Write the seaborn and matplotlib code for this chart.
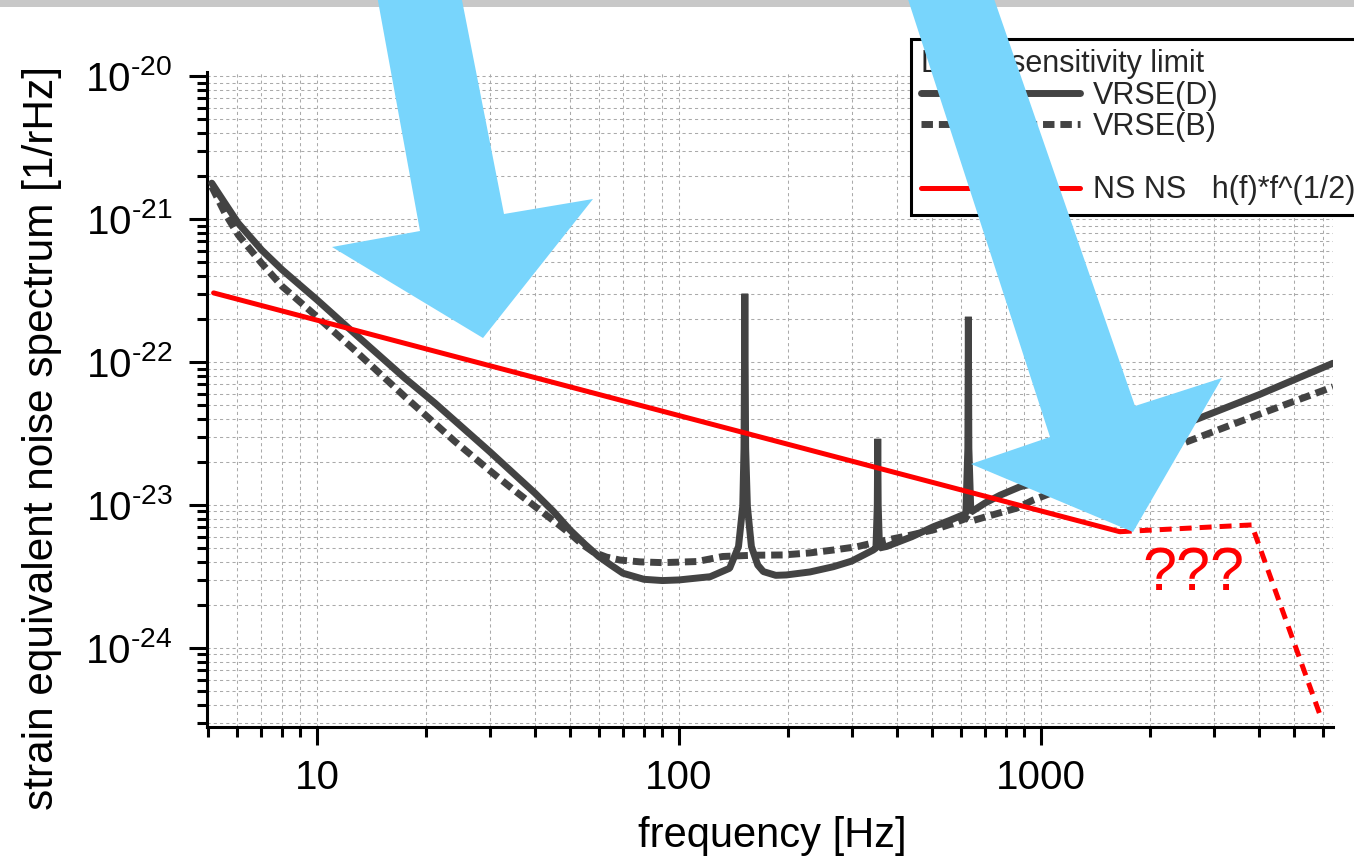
import matplotlib
matplotlib.use("Agg")
import matplotlib.pyplot as plt
import seaborn as sns
import pandas as pd
from matplotlib.lines import Line2D
from matplotlib.patches import Polygon, Rectangle
from matplotlib.ticker import NullFormatter, FixedLocator, FixedFormatter

# ---------------- data ----------------
freq_D = [5.12, 5.6, 6.06, 7.03, 8.02, 10.0, 12.7, 17.5, 21.2, 30.0, 40.0, 45.0, 50.0,
          55.0, 60.0, 65.0, 70.0, 80.0, 90.0, 100, 122, 138, 146, 150, 151.2, 151.7,
          152, 152.3, 152.8, 154.5, 158.5, 165, 171, 185, 198, 230, 267, 300, 344,
          350, 353, 354, 355, 358, 375, 440, 505, 560, 620, 628, 630, 632, 640, 700,
          771, 875, 950, 1200, 1600, 2000, 2750, 4000, 6410]
h_D = [1.78e-21, 1.26e-21, 9.33e-22, 6.07e-22, 4.40e-22, 2.72e-22, 1.58e-22, 7.69e-23,
       5.14e-23, 2.36e-23, 1.21e-23, 9.0e-24, 6.68e-24, 5.3e-24, 4.36e-24, 3.78e-24,
       3.33e-24, 3.02e-24, 2.96e-24, 2.99e-24, 3.15e-24, 3.61e-24, 5.12e-24, 9.77e-24,
       2.5e-23, 1.0e-22, 3.0e-22, 1.0e-22, 2.5e-23, 9.77e-24, 5.12e-24, 3.8e-24,
       3.42e-24, 3.22e-24, 3.24e-24, 3.4e-24, 3.7e-24, 4.05e-24, 4.84e-24, 5.0e-24,
       1.0e-23, 2.9e-23, 1.0e-23, 5.0e-24, 5.13e-24, 6.0e-24, 7.05e-24, 7.8e-24,
       8.7e-24, 2.5e-23, 2.07e-22, 2.5e-23, 8.9e-24, 1.03e-23, 1.17e-23, 1.34e-23,
       1.41e-23, 1.78e-23, 2.37e-23, 2.97e-23, 4.06e-23, 5.9e-23, 9.8e-23]

freq_B = [5.12, 5.57, 6.06, 7.03, 8.02, 10.0, 12.7, 17.5, 24.0, 30.0, 35.0, 40.0, 45.0,
          50.0, 54.0, 58.0, 63.0, 68.6, 78.0, 90.0, 112, 132, 160, 194, 230, 267, 310,
          352, 430, 505, 560, 623, 640, 720, 857, 950, 1500, 2468, 4000, 6410]
h_B = [1.68e-21, 1.096e-21, 7.73e-22, 4.90e-22, 3.37e-22, 2.07e-22, 1.21e-22, 5.71e-23,
       2.79e-23, 1.74e-23, 1.27e-23, 9.77e-24, 7.76e-24, 6.31e-24, 5.31e-24, 4.68e-24,
       4.32e-24, 4.12e-24, 4.0e-24, 3.95e-24, 4.02e-24, 4.36e-24, 4.45e-24, 4.47e-24,
       4.62e-24, 4.84e-24, 5.1e-24, 5.5e-24, 6.1e-24, 6.7e-24, 7.3e-24, 8.07e-24,
       7.7e-24, 8.4e-24, 9.5e-24, 1.08e-23, 1.7e-23, 2.7e-23, 4.3e-23, 6.7e-23]

freq_ns = [5.18, 1650]
h_ns = [3.04e-22, 6.5e-24]
freq_ns_ext = [1650, 3820, 5900]
h_ns_ext = [6.5e-24, 7.25e-24, 3.4e-25]

x_ticks = [10, 100, 1000]
x_tick_labels = ["10", "100", "1000"]
y_ticks = [1e-24, 1e-23, 1e-22, 1e-21, 1e-20]
y_tick_labels = [r"$10^{\text{-}24}$", r"$10^{\text{-}23}$", r"$10^{\text{-}22}$",
                 r"$10^{\text{-}21}$", r"$10^{\text{-}20}$"]

legend_title = "LCGT sensitivity limit"
label_D = "VRSE(D)"
label_B = "VRSE(B)"
label_ns = "NS NS   h(f)*f^(1/2)"
xlabel = "frequency [Hz]"
ylabel = "strain equivalent noise spectrum [1/rHz]"
note = "???"

# ---------------- styling ----------------
sns.set_theme(style="white")
plt.rcParams["font.family"] = ["Liberation Sans", "DejaVu Sans"]
plt.rcParams["mathtext.fontset"] = "custom"
plt.rcParams["mathtext.rm"] = "Liberation Sans"
plt.rcParams["mathtext.it"] = "Liberation Sans:italic"
plt.rcParams["mathtext.bf"] = "Liberation Sans:bold"

W, H = 1354, 865
fig = plt.figure(figsize=(W / 100, H / 100), dpi=100)
fig.patch.set_facecolor("white")
ax = fig.add_axes([207 / W, 1 - 727 / H, (1333 - 207) / W, (727 - 72) / H])
ax.set_xscale("log")
ax.set_yscale("log")

gray = "#434343"
red = "#ff0000"
lw_gray = 5.0
lw_red = 3.6
dash_gray = (0, (1.65, 0.85))
dash_red = (0, (2.4, 1.6))

dfD = pd.DataFrame({"f": freq_D, "h": h_D})
dfB = pd.DataFrame({"f": freq_B, "h": h_B})
dfN = pd.DataFrame({"f": freq_ns, "h": h_ns})
dfN2 = pd.DataFrame({"f": freq_ns_ext, "h": h_ns_ext})

sns.lineplot(data=dfB, x="f", y="h", ax=ax, color=gray, linewidth=lw_gray,
             linestyle=dash_gray, estimator=None, sort=False, zorder=3)
sns.lineplot(data=dfD, x="f", y="h", ax=ax, color=gray, linewidth=lw_gray,
             estimator=None, sort=False, zorder=4, solid_joinstyle="bevel")
sns.lineplot(data=dfN, x="f", y="h", ax=ax, color=red, linewidth=lw_red,
             estimator=None, sort=False, zorder=5)
sns.lineplot(data=dfN2, x="f", y="h", ax=ax, color=red, linewidth=lw_red,
             linestyle=dash_red, estimator=None, sort=False, zorder=5)

ax.set_xlim(4.967, 6407)
ax.set_ylim(2.8e-25, 1.066e-20)

ax.xaxis.set_major_locator(FixedLocator(x_ticks))
ax.xaxis.set_major_formatter(FixedFormatter(x_tick_labels))
ax.xaxis.set_minor_formatter(NullFormatter())
ax.yaxis.set_major_locator(FixedLocator(y_ticks))
ax.yaxis.set_major_formatter(FixedFormatter(y_tick_labels))
ax.yaxis.set_minor_formatter(NullFormatter())

ax.grid(True, which="both", color="#aaaaaa", linestyle=(0, (3, 3)), linewidth=0.75)
ax.set_axisbelow(True)

for s in ["top", "right"]:
    ax.spines[s].set_visible(False)
for s in ["left", "bottom"]:
    ax.spines[s].set_linewidth(2.2)
    ax.spines[s].set_color("black")

ax.tick_params(which="major", direction="out", length=13, width=2.2, color="black",
               labelsize=29, labelcolor="black")
ax.tick_params(which="minor", direction="out", length=7, width=2.2, color="black")
ax.tick_params(axis="x", which="major", pad=10)
ax.tick_params(axis="y", which="major", pad=12)
ax.tick_params(bottom=True, left=True, top=False, right=False, which="both")

ax.set_xlabel(xlabel, fontsize=30, color="black")
ax.set_ylabel(ylabel, fontsize=30.5, color="black")
ax.xaxis.set_label_coords(0.502, -(816 - 727) / 655)
ax.yaxis.set_label_coords(-(207 - 62) / 1126, 0.441)

ax.text(2630, 2.55e-24, note, color=red, fontsize=44, ha="center", va="baseline", zorder=6)

handles = [
    Line2D([], [], color=gray, linewidth=lw_gray),
    Line2D([], [], color=gray, linewidth=lw_gray, linestyle=dash_gray),
    Line2D([], [], color="none"),
    Line2D([], [], color=red, linewidth=lw_red),
]
labels = [label_D, label_B, " ", label_ns]
leg = ax.legend(handles, labels, title=legend_title, loc="upper left",
                bbox_to_anchor=(911 / W, 1 - 39 / H), bbox_transform=fig.transFigure,
                borderaxespad=0, fontsize=22, title_fontsize=22, frameon=True,
                fancybox=False, framealpha=1, edgecolor="black", handlelength=5.2,
                handletextpad=0.42, labelspacing=0.05, borderpad=0.33,
                alignment="left")
leg.get_frame().set_linewidth(2.2)
leg.set_zorder(7)

# decoration: slide band and overlaid arrows
fig.add_artist(Rectangle((0, 1 - 7 / H), 1, 7 / H, transform=fig.transFigure,
                         facecolor="#c8c8c8", edgecolor="none", zorder=9))

def to_fig(pts):
    return [(x / W, 1 - y / H) for x, y in pts]

arrow1 = [(376, -10), (460, -10), (504, 214), (593, 199), (483, 338), (332, 247), (420, 231)]
arrow2 = [(905, -10), (991, -10), (1135, 406), (1222, 378), (1133, 532), (971, 464), (1050, 437)]
for pts in (arrow1, arrow2):
    fig.add_artist(Polygon(to_fig(pts), closed=True, transform=fig.transFigure,
                           facecolor="#78d5fc", edgecolor="none", zorder=10))

fig.savefig("out.png", dpi=100)
